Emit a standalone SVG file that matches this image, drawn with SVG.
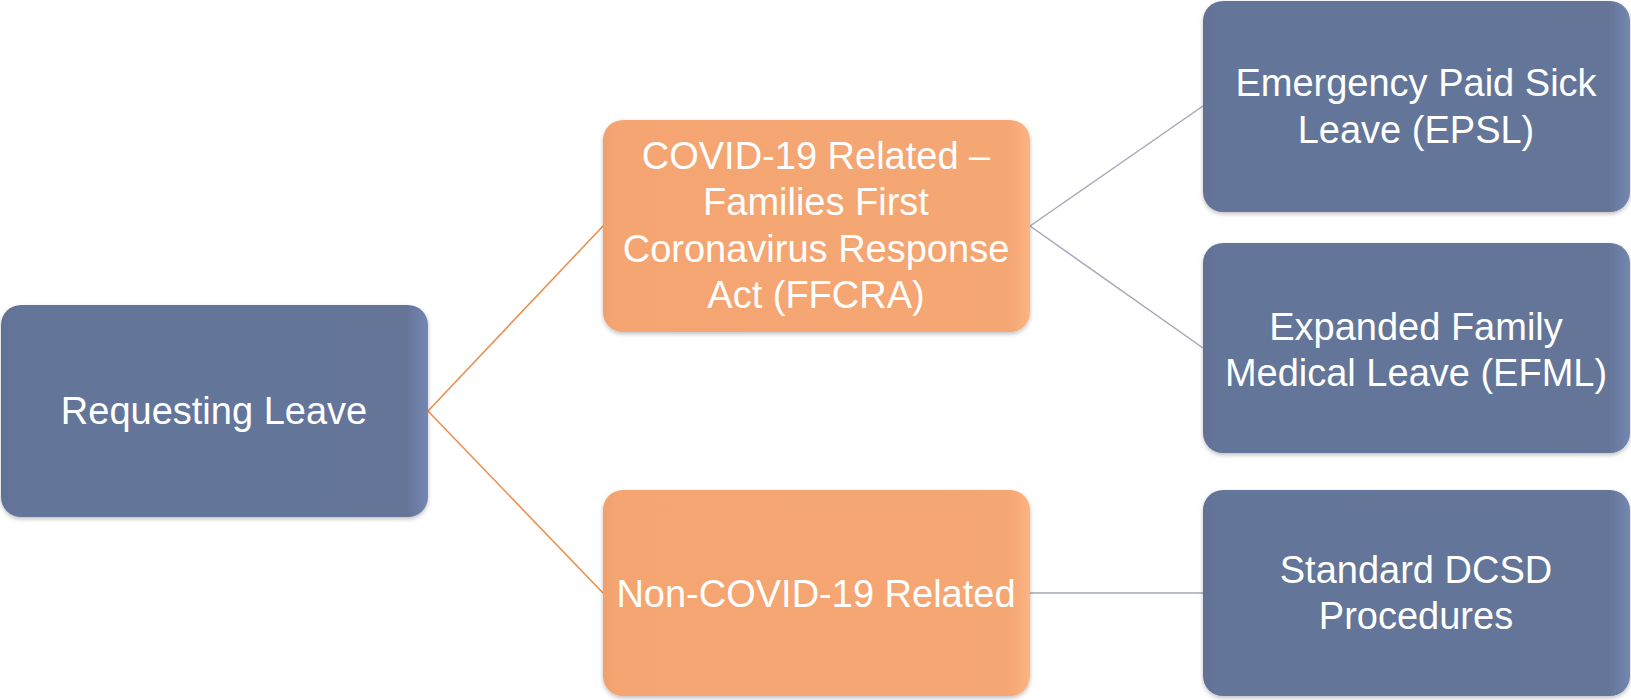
<svg xmlns="http://www.w3.org/2000/svg" width="1631" height="700" viewBox="0 0 1631 700">
  <style>
    .blue { fill: url(#gBlue); }
    .orange { fill: url(#gOrange); }
    .box { filter: url(#shadow); }
    .lbl { font-family: "Liberation Sans", Arial, sans-serif; font-size: 38px; fill: #FFFFFF; text-anchor: middle; }
    .c-or { stroke: #EE8A45; stroke-width: 1.5; fill: none; }
    .c-gr { stroke: #A3A8B6; stroke-width: 1.5; fill: none; }
  </style>
  <defs>
    <linearGradient id="gBlue" x1="0" y1="0" x2="1" y2="0">
      <stop offset="0" stop-color="#627296"/>
      <stop offset="0.03" stop-color="#647498"/>
      <stop offset="0.95" stop-color="#657598"/>
      <stop offset="1" stop-color="#7487B2"/>
    </linearGradient>
    <linearGradient id="gOrange" x1="0" y1="0" x2="1" y2="0">
      <stop offset="0" stop-color="#F1A06C"/>
      <stop offset="0.03" stop-color="#F4A572"/>
      <stop offset="0.95" stop-color="#F4A673"/>
      <stop offset="1" stop-color="#FDB482"/>
    </linearGradient>
    <filter id="shadow" x="-5%" y="-5%" width="110%" height="112%">
      <feDropShadow dx="0" dy="2" stdDeviation="2" flood-color="#000000" flood-opacity="0.25"/>
    </filter>
  </defs>

  <g id="connectors">
    <line class="c-or" x1="428" y1="411" x2="603" y2="226"/>
    <line class="c-or" x1="428" y1="411" x2="603" y2="593"/>
    <line class="c-gr" x1="1030" y1="226" x2="1203" y2="106"/>
    <line class="c-gr" x1="1030" y1="226" x2="1203" y2="348"/>
    <line class="c-gr" x1="1030" y1="593" x2="1203" y2="593"/>
  </g>

  <g id="requesting-leave">
    <rect class="box blue" x="1" y="305" width="427" height="212" rx="20"/>
    <text class="lbl" x="214" y="424">Requesting Leave</text>
  </g>

  <g id="covid-related">
    <rect class="box orange" x="603" y="120" width="427" height="212" rx="20"/>
    <text class="lbl" x="816" y="169">COVID-19 Related –</text>
    <text class="lbl" x="816" y="215">Families First</text>
    <text class="lbl" x="816" y="262">Coronavirus Response</text>
    <text class="lbl" x="816" y="308">Act (FFCRA)</text>
  </g>

  <g id="non-covid">
    <rect class="box orange" x="603" y="490" width="427" height="206" rx="20"/>
    <text class="lbl" x="816" y="607">Non-COVID-19 Related</text>
  </g>

  <g id="epsl">
    <rect class="box blue" x="1203" y="1" width="427" height="211" rx="20"/>
    <text class="lbl" x="1416" y="96">Emergency Paid Sick</text>
    <text class="lbl" x="1416" y="143">Leave (EPSL)</text>
  </g>

  <g id="efml">
    <rect class="box blue" x="1203" y="243" width="427" height="210" rx="20"/>
    <text class="lbl" x="1416" y="340">Expanded Family</text>
    <text class="lbl" x="1416" y="386">Medical Leave (EFML)</text>
  </g>

  <g id="standard">
    <rect class="box blue" x="1203" y="490" width="427" height="206" rx="20"/>
    <text class="lbl" x="1416" y="583">Standard DCSD</text>
    <text class="lbl" x="1416" y="629">Procedures</text>
  </g>
</svg>
